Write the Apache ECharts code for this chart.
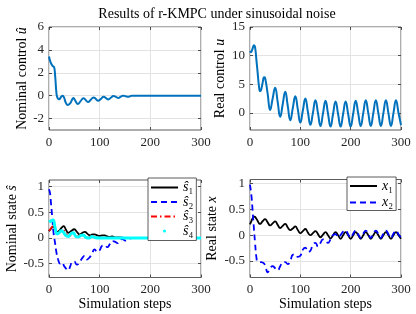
<!DOCTYPE html>
<html><head><meta charset="utf-8">
<script src="https://cdn.jsdelivr.net/npm/echarts@6/dist/echarts.min.js"></script>
<style>html,body{margin:0;padding:0;background:#fff}#c{width:416px;height:314px}</style>
</head><body><div id="c"></div>
<script>
// ---- Nominal control u-hat ----
const tUhat = [0,3,7,10,12,15,17,20,24,27,30,33,37,42,45,48,52,57,62,68,72,77,82,88,92,97,102,108,112,117,122,127,132,137,141,146,151,156,160,164,170,300];
const uHat  = [3.42,2.93,2.6,2.5,1.8,0.1,-0.2,-0.32,-0.1,0.0,-0.2,-0.6,-0.82,-0.65,-0.4,-0.2,-0.45,-0.72,-0.5,-0.22,-0.35,-0.55,-0.38,-0.15,-0.27,-0.45,-0.3,-0.1,-0.2,-0.33,-0.18,-0.03,-0.1,-0.2,-0.1,0.0,-0.05,-0.1,-0.05,0,0,0];
// ---- Real control u ----
const tU = [0,2,5,8,10,13,15,18,20,22,25,28,30,35,40,45,50,55,60,65,70,75,80,85,90,95,100,105,110,115,120,125,130,135,140,145,150,155,160,165,170,175,180,185,190,195,200,205,210,215,220,225,230,235,240,245,250,255,260,265,270,275,280,285,290,295,300];
const uReal = [10.8,10.6,11.2,11.8,11.5,9.0,7.2,4.5,3.8,4.0,5.2,6.2,6.1,3.4,0.5,2.5,4.4,1.9,-0.7,1.5,3.7,1.2,-1.3,0.8,2.9,0.6,-1.7,0.4,2.5,0.2,-2.1,0.0,2.2,0.0,-2.3,-0.1,2.1,-0.15,-2.4,-0.2,2.0,-0.2,-2.4,-0.2,2.0,-0.2,-2.4,-0.15,2.1,-0.1,-2.3,-0.05,2.2,-0.05,-2.3,-0.05,2.2,-0.05,-2.3,-0.05,2.2,-0.05,-2.3,-0.05,2.2,0.0,-2.15];
// ---- Nominal states ----
const tS1 = [0,3,8,12,16,20,25,29,33,38,43,50,55,61,66,71,76,81,86,90,95,100,105,110,115,120,125,130,140,150,300];
const s1  = [0.13,0.17,0.22,0.18,0.12,0.14,0.2,0.23,0.17,0.1,0.13,0.17,0.12,0.07,0.1,0.12,0.08,0.05,0.07,0.07,0.05,0.04,0.05,0.05,0.03,0.02,0.03,0.01,0.01,0,0];
const tS2 = [0,2,4,6,9,12,15,18,22,26,30,34,38,42,46,50,55,60,65,70,75,80,85,90,95,100,105,110,115,120,125,130,135,140,145,150,155,160,165,300];
const s2  = [0.95,0.88,0.67,0.45,0.1,-0.1,-0.3,-0.42,-0.5,-0.48,-0.55,-0.6,-0.63,-0.55,-0.46,-0.46,-0.52,-0.48,-0.4,-0.35,-0.42,-0.38,-0.3,-0.22,-0.27,-0.24,-0.15,-0.14,-0.18,-0.12,-0.06,-0.07,-0.1,-0.04,-0.02,-0.05,-0.05,-0.01,0,0];
const tS3 = [0,4,8,12,16,20,28,35,40,48,55,65,75,85,100,120,300];
const s3  = [0.14,0.19,0.23,0.15,0.08,0.1,0.15,0.06,0.04,0.1,0.03,0.06,0.02,0.03,0.01,0,0];
const tS4 = [0,5,8,12,16,20,24,28,33,38,43,48,53,58,63,68,73,80,85,90,100,300];
const s4  = [0.31,0.34,0.35,0.2,0.08,0.1,0.14,0.12,0.05,0.03,0.08,0.1,0.03,0.02,0.05,0.06,0.01,0,0.03,0.01,0,0];
// ---- Real states ----
const tX1 = [0,3,6,9,12,15,18,20,25,30,35,40,45,50,55,60,65,70,75,80,85,90,95,100,105,110,115,120,125,130,135,140,145,150,155,160,165,170,175,180,185,190,195,200,205,210,215,220,225,230,235,240,245,250,255,260,265,270,275,280,285,290,295,300];
const x1  = [0.21,0.28,0.34,0.36,0.33,0.28,0.23,0.22,0.27,0.31,0.25,0.19,0.23,0.27,0.2,0.14,0.18,0.22,0.15,0.1,0.13,0.17,0.1,0.04,0.08,0.12,0.05,0.0,0.04,0.08,0.02,-0.04,0.01,0.06,0.0,-0.06,0.0,0.06,0.0,-0.07,0.0,0.06,0.0,-0.07,0.0,0.06,0.0,-0.07,0.0,0.06,0.0,-0.07,0.0,0.06,0.0,-0.07,0.0,0.06,0.0,-0.07,0.0,0.06,0.0,-0.07];
const tX2 = [0,3,5,8,10,13,15,20,25,30,35,40,45,50,55,60,65,70,75,80,85,90,95,100,105,110,115,120,125,130,135,140,145,150,155,160,165,170,175,180,185,190,195,200,205,210,215,220,225,230,235,240,245,250,255,260,265,270,275,280,285,290,295,300];
const x2  = [0.98,0.75,0.5,0.1,-0.14,-0.45,-0.51,-0.52,-0.53,-0.58,-0.72,-0.64,-0.6,-0.64,-0.68,-0.6,-0.53,-0.52,-0.56,-0.5,-0.38,-0.37,-0.42,-0.4,-0.28,-0.24,-0.32,-0.3,-0.18,-0.15,-0.22,-0.15,-0.08,-0.1,-0.15,-0.08,0.0,0.02,-0.04,0.0,0.07,0.09,0.02,-0.05,0.03,0.09,0.02,-0.05,0.03,0.09,0.02,-0.05,0.03,0.09,0.02,-0.05,0.03,0.09,0.02,-0.05,0.03,0.09,0.02,-0.05];
// ---- Axis ticks ----
const xTicks = [0,100,200,300];
const yTicks = [[-2,0,2,4,6],[0,5,10,15],[-0.5,0,0.5,1],[-0.5,0,0.5,1]];
const yRange = [[-3,6],[-3,15],[-0.77,1.13],[-0.82,1.08]];

const F = 'Liberation Serif';
const TC = '#262626';
const pair = (t, v) => t.map((x, i) => [x, v[i]]);
const grids = [
  {left:49, top:27, width:152, height:103},
  {left:250, top:27, width:151, height:103},
  {left:49, top:180, width:152, height:97.5},
  {left:250, top:179.5, width:151, height:98}
];
const yNames = ['{n|Nominal control }{i|û}','{n|Real control }{i|u}','{n|Nominal state }{i|ŝ}','{n|Real state }{i|x}'];
const yGaps = [19,23,23,31];
const nameRich = {n:{fontFamily:F,fontSize:14,color:'#000'}, i:{fontFamily:F,fontSize:14,fontStyle:'italic',color:'#000'}};
const tickStyle = {inside:true,length:3,lineStyle:{color:TC,width:0.8}};

const xAxis = [], yAxis = [];
for (let i = 0; i < 4; i++) {
  xAxis.push({type:'value', gridIndex:i, min:0, max:300, interval:100,
    axisLine:{show:false,onZero:false}, axisTick:tickStyle,
    axisLabel:{fontFamily:F,fontSize:13,color:TC,margin:6,customValues:xTicks},
    splitLine:{show:true,lineStyle:{color:'#e3e3e3',width:1}},
    name: i >= 2 ? 'Simulation steps' : '', nameLocation:'middle', nameGap:19,
    nameTextStyle:{fontFamily:F,fontSize:14,color:'#000'}});
  yAxis.push({type:'value', gridIndex:i, min:yRange[i][0], max:yRange[i][1],
    axisLine:{show:false,onZero:false},
    axisTick:Object.assign({customValues:yTicks[i]}, tickStyle),
    axisLabel:{fontFamily:F,fontSize:13,color:TC,margin:5,customValues:yTicks[i]},
    splitLine:{show:true,lineStyle:{color:'#e3e3e3',width:1}},
    name:yNames[i], nameLocation:'middle', nameGap:yGaps[i],
    nameTextStyle:{fontFamily:F,fontSize:14,color:'#000',rich:nameRich}});
}
for (let i = 0; i < 4; i++) {
  xAxis.push({type:'value', gridIndex:i, position:'top', min:0, max:300, interval:100,
    axisLine:{show:false,onZero:false}, axisTick:tickStyle,
    axisLabel:{show:false}, splitLine:{show:false}});
  yAxis.push({type:'value', gridIndex:i, position:'right', min:yRange[i][0], max:yRange[i][1],
    axisLine:{show:false,onZero:false},
    axisTick:Object.assign({customValues:yTicks[i]}, tickStyle),
    axisLabel:{show:false,customValues:yTicks[i]}, splitLine:{show:false}});
}

const line = (name, gi, data, color, width, type) => ({
  name, type:'line', xAxisIndex:gi, yAxisIndex:gi, data, symbol:'none', showSymbol:false, smooth:0.5,
  lineStyle:{color, width, type: type || 'solid'}, itemStyle:{color}, z:3
});

const legendNames = {s1:'{v|ŝ}{n|₁}', s2:'{v|ŝ}{n|₂}', s3:'{v|ŝ}{n|₃}', s4:'{v|ŝ}{n|₄}', x1:'{v|x}{n|₁}', x2:'{v|x}{n|₂}'};
const legRich = {v:{fontFamily:F,fontSize:14,fontStyle:'italic',lineHeight:14,color:'#000'}, n:{fontFamily:F,fontSize:14,lineHeight:14,color:'#000'}};
const legBase = {orient:'vertical', itemWidth:27, itemHeight:3, borderColor:'#333', borderWidth:0.8,
  backgroundColor:'#fff', borderRadius:0, itemStyle:{opacity:0}, selectedMode:false,
  formatter: n => legendNames[n], textStyle:{rich:legRich}};

const option = {
  animation:false,
  backgroundColor:'#fff',
  title:{text:'Results of r-KMPC under sinusoidal noise', left:217, top:7, textAlign:'center', padding:0,
    textStyle:{fontFamily:F,fontSize:14,fontWeight:'normal',color:'#000'}},
  grid: grids.map(g => Object.assign({show:true, borderColor:'#333', borderWidth:0.8, backgroundColor:'transparent'}, g)),
  xAxis, yAxis,
  legend:[
    Object.assign({}, legBase, {left:148, top:178, itemGap:0.5, padding:[2.5,3,2.5,2],
      data:[{name:'s1'},{name:'s2'},{name:'s3'},{name:'s4', icon:'circle', itemStyle:{opacity:1, color:'#00FFFF'}}]}),
    Object.assign({}, legBase, {left:347, top:177, itemGap:2.5, padding:[2,3,1,2],
      data:[{name:'x1'},{name:'x2'}]})
  ],
  series:[
    line('uhat', 0, pair(tUhat, uHat), '#0072BD', 2),
    line('u', 1, pair(tU, uReal), '#0072BD', 2),
    line('s1', 2, pair(tS1, s1), '#000000', 1.8),
    line('s2', 2, pair(tS2, s2), '#0000FF', 1.8, [6,4]),
    line('s3', 2, pair(tS3, s3), '#FF0000', 1.8, [6,3,1.5,3]),
    line('s4', 2, pair(tS4, s4), '#00FFFF', 3),
    line('x1', 3, pair(tX1, x1), '#000000', 1.8),
    line('x2', 3, pair(tX2, x2), '#0000FF', 1.8, [6,4])
  ]
};
const chart = echarts.init(document.getElementById('c'));
chart.setOption(option);
</script></body></html>
